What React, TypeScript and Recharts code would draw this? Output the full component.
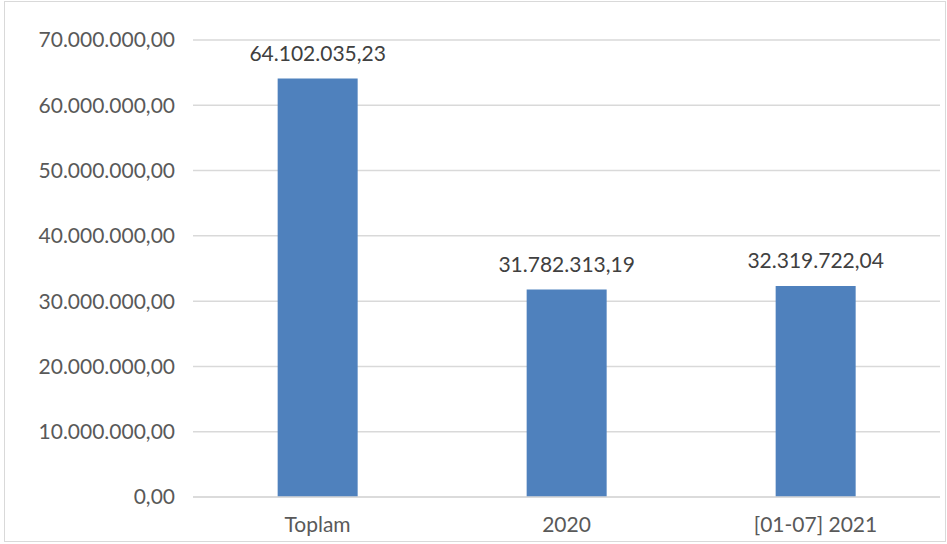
import { BarChart, Bar, XAxis, YAxis, CartesianGrid, LabelList } from "recharts";

const categories = ["Toplam", "2020", "[01-07] 2021"];
const amounts = [64102035.23, 31782313.19, 32319722.04];
const yTicks = [0, 10000000, 20000000, 30000000, 40000000, 50000000, 60000000, 70000000];

const data = categories.map((name, i) => ({ name, value: amounts[i] }));

// Turkish number format: 64.102.035,23
function fmt(v: number) {
  const [int, dec] = v.toFixed(2).split(".");
  return int.replace(/\B(?=(\d{3})+(?!\d))/g, ".") + "," + dec;
}

const font = "Lato, 'Open Sans', sans-serif";

export default function App() {
  return (
    <div
      style={{
        position: "absolute",
        left: 0,
        top: 0,
        width: 947,
        height: 544,
        background: "#fff",
        fontFamily: font,
      }}
    >
      <div
        style={{
          position: "absolute",
          left: 4,
          top: 1,
          width: 940,
          height: 539,
          border: "1px solid #d9d9d9",
        }}
      />
      <BarChart
        width={947}
        height={544}
        data={data}
        margin={{ top: 40, right: 7, bottom: 17, left: 0 }}
        barCategoryGap="34%"
      >
        <CartesianGrid vertical={false} stroke="#d9d9d9" strokeWidth={1.5} />
        <XAxis
          dataKey="name"
          axisLine={{ stroke: "#d9d9d9", strokeWidth: 1.5 }}
          tickLine={false}
          tickMargin={14}
          height={30}
          tick={{ fill: "#595959", fontSize: 21, fontFamily: font }}
        />
        <YAxis
          width={193}
          domain={[0, 70000000]}
          ticks={yTicks}
          interval={0}
          axisLine={false}
          tickLine={false}
          tickMargin={12}
          tickFormatter={fmt}
          tick={{ fill: "#595959", fontSize: 21, fontFamily: font }}
        />
        <Bar dataKey="value" fill="#4f81bd" isAnimationActive={false}>
          <LabelList
            dataKey="value"
            position="top"
            offset={18}
            formatter={(v: any) => fmt(Number(v))}
            style={{ fill: "#404040", fontSize: 21, fontFamily: font }}
          />
        </Bar>
      </BarChart>
    </div>
  );
}
